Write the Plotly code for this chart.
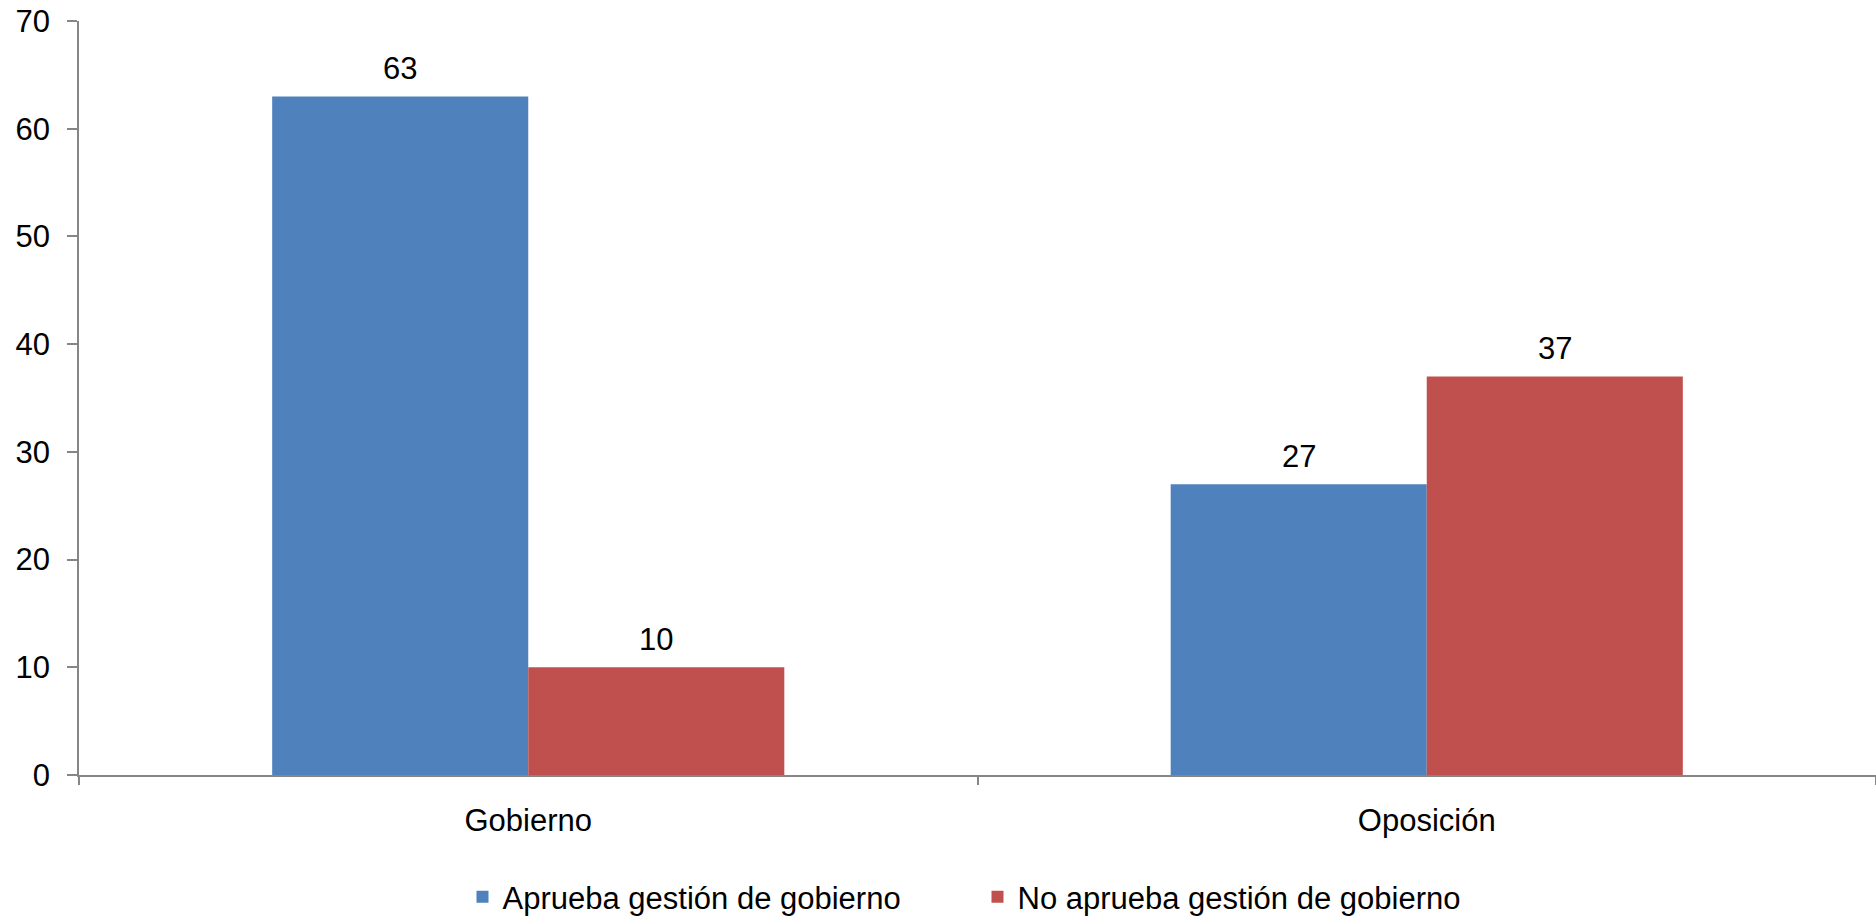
import plotly.graph_objects as go

categories = ["Gobierno", "Oposición"]
series_names = ["Aprueba gestión de gobierno", "No aprueba gestión de gobierno"]
aprueba = [63, 27]
no_aprueba = [10, 37]
y_ticks = [0, 10, 20, 30, 40, 50, 60, 70]

colors = ["#4F81BD", "#C0504D"]
FONT = "Liberation Sans, Arial, sans-serif"
FS = 31

fig = go.Figure()
for name, vals, col in zip(series_names, [aprueba, no_aprueba], colors):
    fig.add_trace(go.Bar(
        x=categories, y=vals, name=name,
        marker=dict(color=col, line=dict(width=0)),
        cliponaxis=False,
    ))

# data labels above each bar (grouped offsets: half a bar width)
half_bar = 128
for vals, shift in zip([aprueba, no_aprueba], [-half_bar, half_bar]):
    for c, v in zip(categories, vals):
        fig.add_annotation(x=c, y=v, text=str(v), showarrow=False,
                           xshift=shift, yshift=8, yanchor="bottom",
                           font=dict(family=FONT, size=FS, color="black"))

fig.update_layout(
    width=1876, height=916,
    margin=dict(l=79, r=0, t=21, b=141, autoexpand=False),
    paper_bgcolor="white", plot_bgcolor="white",
    barmode="group", bargap=0.43, bargroupgap=0,
    font=dict(family=FONT, size=FS, color="black"),
    showlegend=True,
    legend=dict(orientation="h", x=0.5, xanchor="center", y=-0.162, yanchor="middle",
                font=dict(family=FONT, size=FS, color="black"),
                traceorder="normal", itemwidth=30, entrywidth=470),
)
fig.update_xaxes(
    automargin=False,
    showline=True, linecolor="#868686", linewidth=2,
    ticks="outside", ticklen=8, tickcolor="#868686", tickwidth=2,
    tickson="boundaries", ticklabelstandoff=17,
    tickfont=dict(family=FONT, size=FS, color="black"),
)
fig.update_yaxes(
    automargin=False,
    range=[0, 70], tickvals=y_ticks, showgrid=False, zeroline=False,
    showline=True, linecolor="#868686", linewidth=1.5,
    ticks="outside", ticklen=10, tickcolor="#868686", tickwidth=1.5,
    ticklabelstandoff=11,
    tickfont=dict(family=FONT, size=FS, color="black"),
)

fig.write_html("out.html", config={"displayModeBar": False},
               post_script="document.body.style.margin='0';document.body.style.overflow='hidden';")
